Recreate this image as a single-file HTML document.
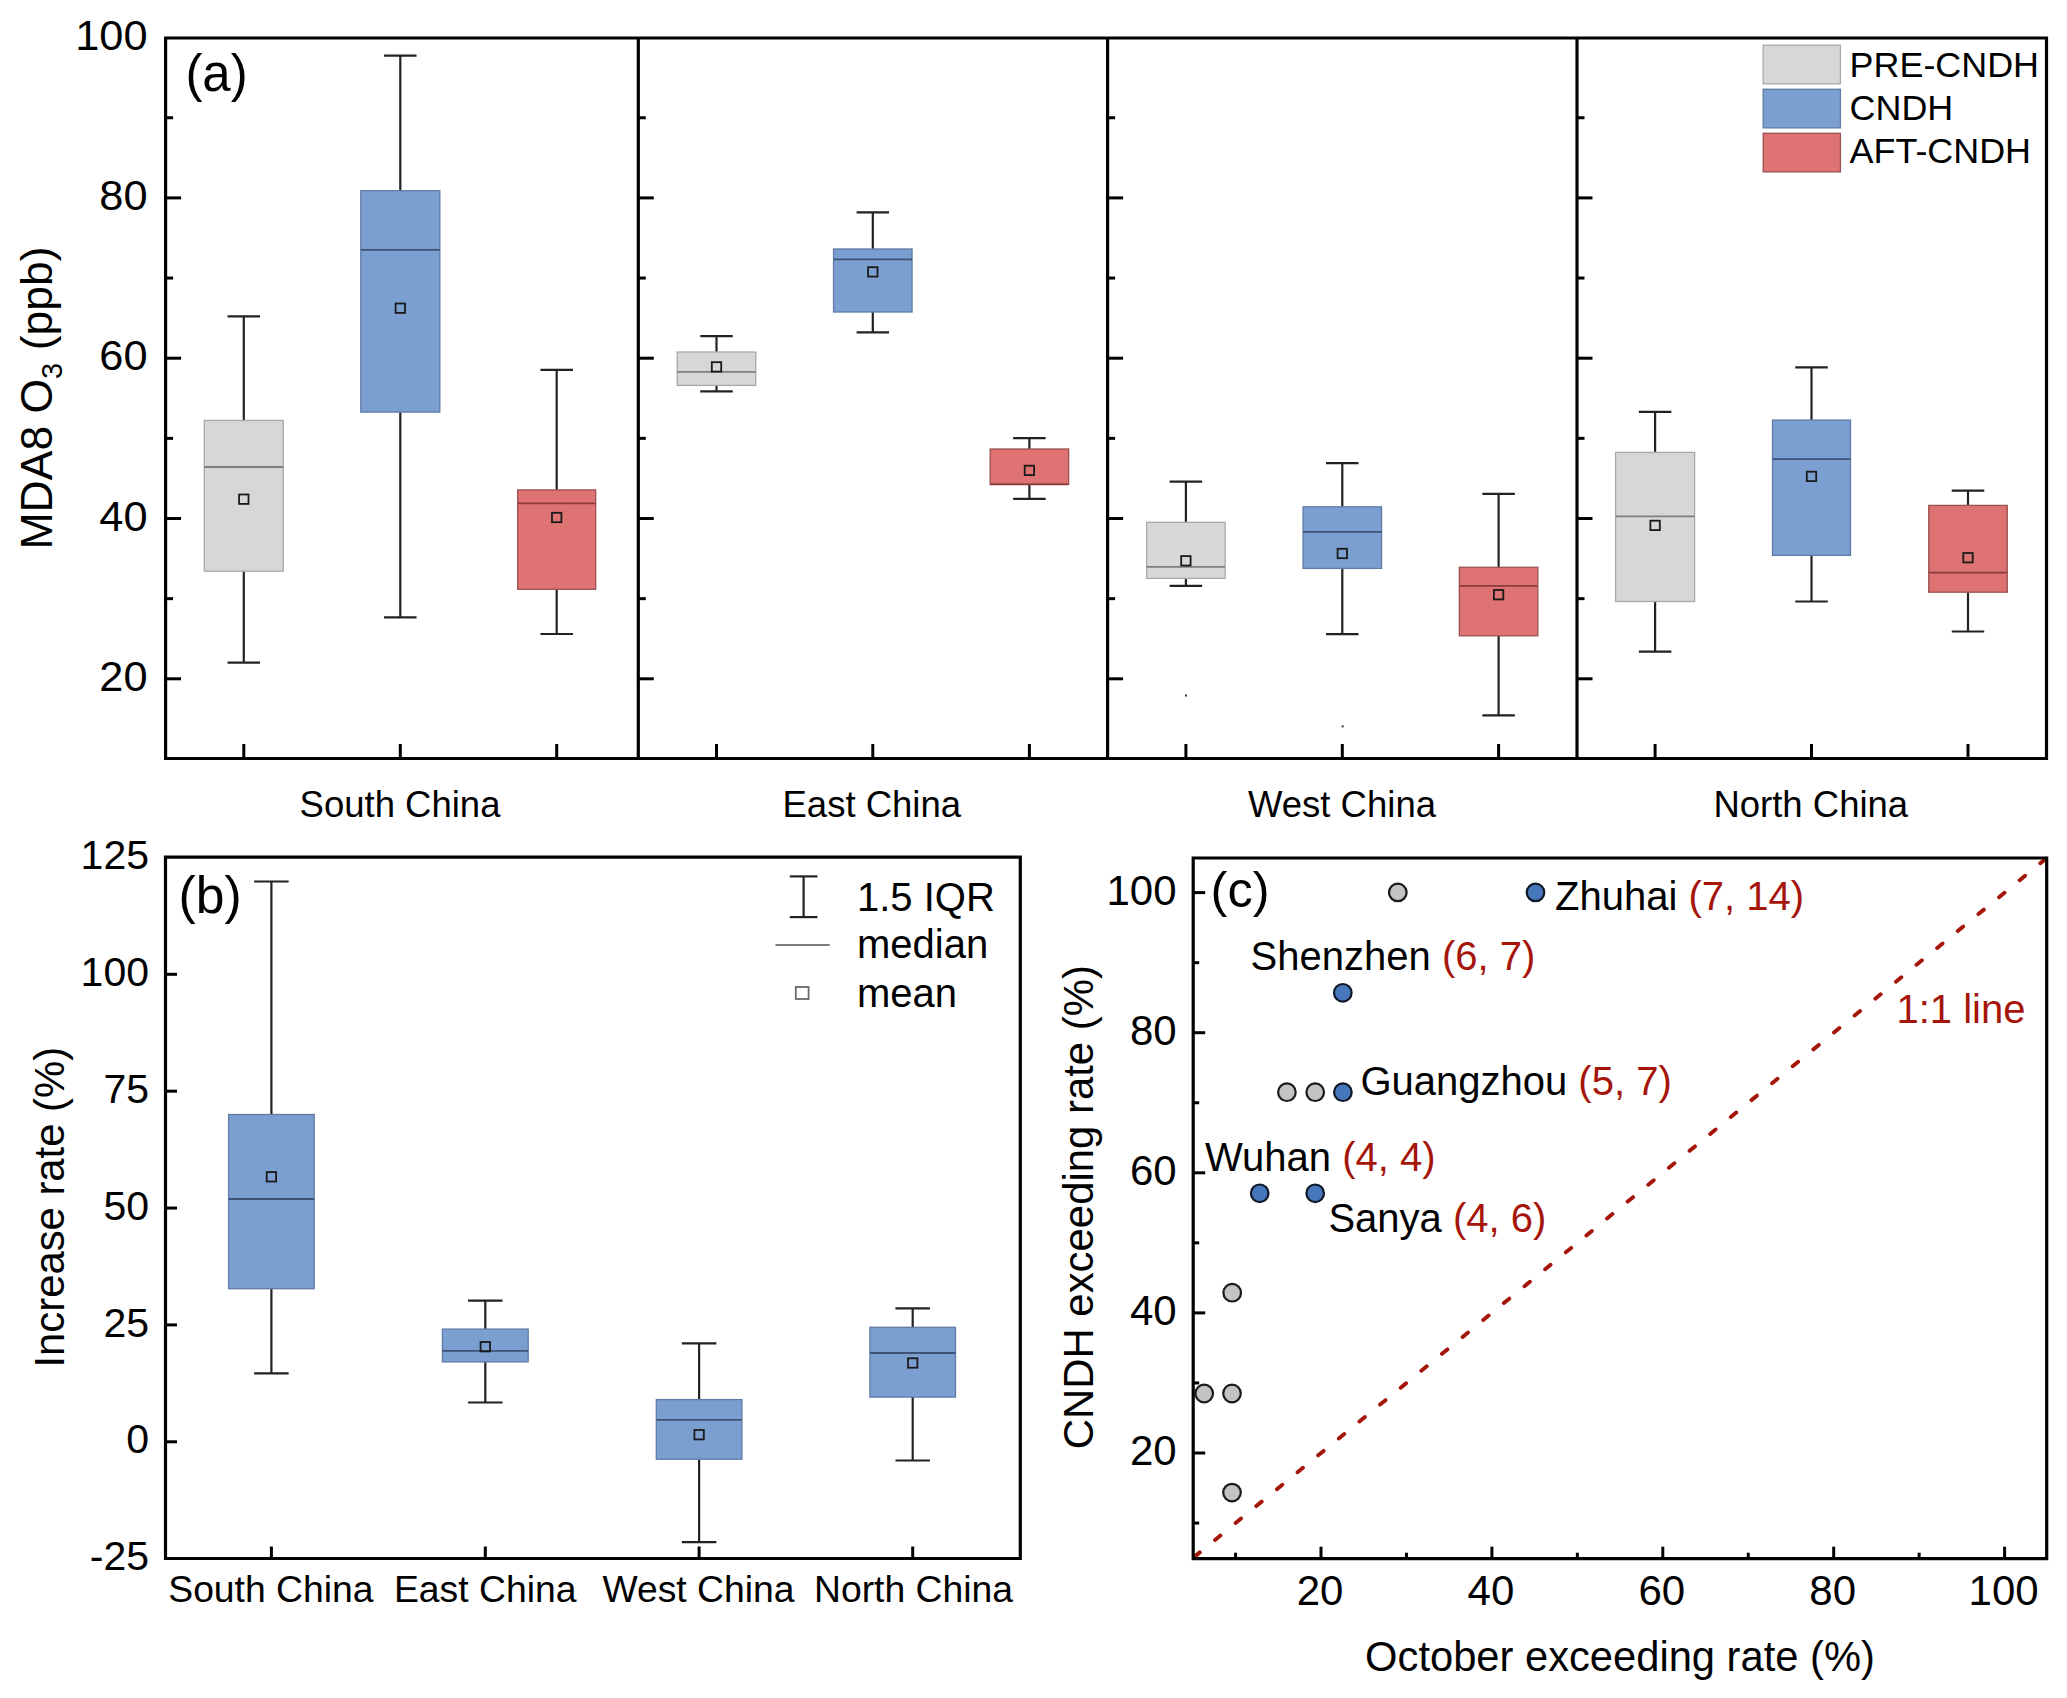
<!DOCTYPE html>
<html><head><meta charset="utf-8"><title>MDA8 O3 figure</title>
<style>html,body{margin:0;padding:0;background:#fff;}svg{display:block;}</style></head>
<body><svg width="2067" height="1698" viewBox="0 0 2067 1698" font-family="'Liberation Sans', Arial, sans-serif" fill="#000">
<rect width="2067" height="1698" fill="#fff"/>
<g id="pa">
<line x1="243.8" y1="316.4" x2="243.8" y2="420.4" stroke="#222" stroke-width="2.2"/>
<line x1="243.8" y1="571.2" x2="243.8" y2="662.7" stroke="#222" stroke-width="2.2"/>
<line x1="227.55" y1="316.4" x2="260.05" y2="316.4" stroke="#222" stroke-width="2.2"/>
<line x1="227.55" y1="662.7" x2="260.05" y2="662.7" stroke="#222" stroke-width="2.2"/>
<rect x="204.3" y="420.4" width="79" height="150.8" fill="#d7d7d7" stroke="#a8a8a8" stroke-width="1.3"/>
<line x1="204.3" y1="467" x2="283.3" y2="467" stroke="#7f7f7f" stroke-width="1.8"/>
<rect x="239.1" y="494.5" width="9.4" height="9.4" fill="none" stroke="#1a1a1a" stroke-width="1.8"/>
<line x1="400.3" y1="55.6" x2="400.3" y2="190.7" stroke="#222" stroke-width="2.2"/>
<line x1="400.3" y1="412.1" x2="400.3" y2="617.4" stroke="#222" stroke-width="2.2"/>
<line x1="384.05" y1="55.6" x2="416.55" y2="55.6" stroke="#222" stroke-width="2.2"/>
<line x1="384.05" y1="617.4" x2="416.55" y2="617.4" stroke="#222" stroke-width="2.2"/>
<rect x="360.8" y="190.7" width="79" height="221.4" fill="#7c9fd1" stroke="#5f7ba6" stroke-width="1.3"/>
<line x1="360.8" y1="249.9" x2="439.8" y2="249.9" stroke="#3e5275" stroke-width="1.8"/>
<rect x="395.6" y="303.5" width="9.4" height="9.4" fill="none" stroke="#1a1a1a" stroke-width="1.8"/>
<line x1="556.7" y1="369.8" x2="556.7" y2="489.9" stroke="#222" stroke-width="2.2"/>
<line x1="556.7" y1="589.3" x2="556.7" y2="634" stroke="#222" stroke-width="2.2"/>
<line x1="540.45" y1="369.8" x2="572.95" y2="369.8" stroke="#222" stroke-width="2.2"/>
<line x1="540.45" y1="634" x2="572.95" y2="634" stroke="#222" stroke-width="2.2"/>
<rect x="517.7" y="489.9" width="78" height="99.4" fill="#df7272" stroke="#9a5252" stroke-width="1.3"/>
<line x1="517.7" y1="503.4" x2="595.7" y2="503.4" stroke="#8b3c3c" stroke-width="1.8"/>
<rect x="552" y="512.8" width="9.4" height="9.4" fill="none" stroke="#1a1a1a" stroke-width="1.8"/>
<line x1="716.5" y1="336.2" x2="716.5" y2="352" stroke="#222" stroke-width="2.2"/>
<line x1="716.5" y1="385.4" x2="716.5" y2="391.4" stroke="#222" stroke-width="2.2"/>
<line x1="700.25" y1="336.2" x2="732.75" y2="336.2" stroke="#222" stroke-width="2.2"/>
<line x1="700.25" y1="391.4" x2="732.75" y2="391.4" stroke="#222" stroke-width="2.2"/>
<rect x="677.25" y="352" width="78.5" height="33.4" fill="#d7d7d7" stroke="#a8a8a8" stroke-width="1.3"/>
<line x1="677.25" y1="371.8" x2="755.75" y2="371.8" stroke="#7f7f7f" stroke-width="1.8"/>
<rect x="711.8" y="362.2" width="9.4" height="9.4" fill="none" stroke="#1a1a1a" stroke-width="1.8"/>
<line x1="872.8" y1="212.3" x2="872.8" y2="249" stroke="#222" stroke-width="2.2"/>
<line x1="872.8" y1="312" x2="872.8" y2="332.4" stroke="#222" stroke-width="2.2"/>
<line x1="856.55" y1="212.3" x2="889.05" y2="212.3" stroke="#222" stroke-width="2.2"/>
<line x1="856.55" y1="332.4" x2="889.05" y2="332.4" stroke="#222" stroke-width="2.2"/>
<rect x="833.55" y="249" width="78.5" height="63" fill="#7c9fd1" stroke="#5f7ba6" stroke-width="1.3"/>
<line x1="833.55" y1="259.4" x2="912.05" y2="259.4" stroke="#3e5275" stroke-width="1.8"/>
<rect x="868.1" y="267.2" width="9.4" height="9.4" fill="none" stroke="#1a1a1a" stroke-width="1.8"/>
<line x1="1029.4" y1="438.2" x2="1029.4" y2="449" stroke="#222" stroke-width="2.2"/>
<line x1="1029.4" y1="484.3" x2="1029.4" y2="498.9" stroke="#222" stroke-width="2.2"/>
<line x1="1013.15" y1="438.2" x2="1045.65" y2="438.2" stroke="#222" stroke-width="2.2"/>
<line x1="1013.15" y1="498.9" x2="1045.65" y2="498.9" stroke="#222" stroke-width="2.2"/>
<rect x="990.15" y="449" width="78.5" height="35.3" fill="#df7272" stroke="#9a5252" stroke-width="1.3"/>
<line x1="990.15" y1="484.3" x2="1068.65" y2="484.3" stroke="#8b3c3c" stroke-width="1.8"/>
<rect x="1024.7" y="465.7" width="9.4" height="9.4" fill="none" stroke="#1a1a1a" stroke-width="1.8"/>
<line x1="1185.9" y1="481.6" x2="1185.9" y2="522.3" stroke="#222" stroke-width="2.2"/>
<line x1="1185.9" y1="578.4" x2="1185.9" y2="585.8" stroke="#222" stroke-width="2.2"/>
<line x1="1169.65" y1="481.6" x2="1202.15" y2="481.6" stroke="#222" stroke-width="2.2"/>
<line x1="1169.65" y1="585.8" x2="1202.15" y2="585.8" stroke="#222" stroke-width="2.2"/>
<rect x="1146.65" y="522.3" width="78.5" height="56.1" fill="#d7d7d7" stroke="#a8a8a8" stroke-width="1.3"/>
<line x1="1146.65" y1="566.9" x2="1225.15" y2="566.9" stroke="#7f7f7f" stroke-width="1.8"/>
<rect x="1181.2" y="556.1" width="9.4" height="9.4" fill="none" stroke="#1a1a1a" stroke-width="1.8"/>
<line x1="1342.3" y1="463.1" x2="1342.3" y2="506.8" stroke="#222" stroke-width="2.2"/>
<line x1="1342.3" y1="568.4" x2="1342.3" y2="634.1" stroke="#222" stroke-width="2.2"/>
<line x1="1326.05" y1="463.1" x2="1358.55" y2="463.1" stroke="#222" stroke-width="2.2"/>
<line x1="1326.05" y1="634.1" x2="1358.55" y2="634.1" stroke="#222" stroke-width="2.2"/>
<rect x="1303.05" y="506.8" width="78.5" height="61.6" fill="#7c9fd1" stroke="#5f7ba6" stroke-width="1.3"/>
<line x1="1303.05" y1="531.9" x2="1381.55" y2="531.9" stroke="#3e5275" stroke-width="1.8"/>
<rect x="1337.6" y="548.8" width="9.4" height="9.4" fill="none" stroke="#1a1a1a" stroke-width="1.8"/>
<line x1="1498.6" y1="493.9" x2="1498.6" y2="567.3" stroke="#222" stroke-width="2.2"/>
<line x1="1498.6" y1="635.8" x2="1498.6" y2="715.3" stroke="#222" stroke-width="2.2"/>
<line x1="1482.35" y1="493.9" x2="1514.85" y2="493.9" stroke="#222" stroke-width="2.2"/>
<line x1="1482.35" y1="715.3" x2="1514.85" y2="715.3" stroke="#222" stroke-width="2.2"/>
<rect x="1459.35" y="567.3" width="78.5" height="68.5" fill="#df7272" stroke="#9a5252" stroke-width="1.3"/>
<line x1="1459.35" y1="585.8" x2="1537.85" y2="585.8" stroke="#8b3c3c" stroke-width="1.8"/>
<rect x="1493.9" y="590" width="9.4" height="9.4" fill="none" stroke="#1a1a1a" stroke-width="1.8"/>
<line x1="1655.1" y1="411.9" x2="1655.1" y2="452.4" stroke="#222" stroke-width="2.2"/>
<line x1="1655.1" y1="601.5" x2="1655.1" y2="651.6" stroke="#222" stroke-width="2.2"/>
<line x1="1638.85" y1="411.9" x2="1671.35" y2="411.9" stroke="#222" stroke-width="2.2"/>
<line x1="1638.85" y1="651.6" x2="1671.35" y2="651.6" stroke="#222" stroke-width="2.2"/>
<rect x="1615.6" y="452.4" width="79" height="149.1" fill="#d7d7d7" stroke="#a8a8a8" stroke-width="1.3"/>
<line x1="1615.6" y1="516.3" x2="1694.6" y2="516.3" stroke="#7f7f7f" stroke-width="1.8"/>
<rect x="1650.4" y="520.7" width="9.4" height="9.4" fill="none" stroke="#1a1a1a" stroke-width="1.8"/>
<line x1="1811.5" y1="367.4" x2="1811.5" y2="420.1" stroke="#222" stroke-width="2.2"/>
<line x1="1811.5" y1="555.4" x2="1811.5" y2="601.5" stroke="#222" stroke-width="2.2"/>
<line x1="1795.25" y1="367.4" x2="1827.75" y2="367.4" stroke="#222" stroke-width="2.2"/>
<line x1="1795.25" y1="601.5" x2="1827.75" y2="601.5" stroke="#222" stroke-width="2.2"/>
<rect x="1772.5" y="420.1" width="78" height="135.3" fill="#7c9fd1" stroke="#5f7ba6" stroke-width="1.3"/>
<line x1="1772.5" y1="459.1" x2="1850.5" y2="459.1" stroke="#3e5275" stroke-width="1.8"/>
<rect x="1806.8" y="471.7" width="9.4" height="9.4" fill="none" stroke="#1a1a1a" stroke-width="1.8"/>
<line x1="1968" y1="490.7" x2="1968" y2="505.4" stroke="#222" stroke-width="2.2"/>
<line x1="1968" y1="592.2" x2="1968" y2="631.5" stroke="#222" stroke-width="2.2"/>
<line x1="1951.75" y1="490.7" x2="1984.25" y2="490.7" stroke="#222" stroke-width="2.2"/>
<line x1="1951.75" y1="631.5" x2="1984.25" y2="631.5" stroke="#222" stroke-width="2.2"/>
<rect x="1928.75" y="505.4" width="78.5" height="86.8" fill="#df7272" stroke="#9a5252" stroke-width="1.3"/>
<line x1="1928.75" y1="572.6" x2="2007.25" y2="572.6" stroke="#8b3c3c" stroke-width="1.8"/>
<rect x="1963.3" y="553" width="9.4" height="9.4" fill="none" stroke="#1a1a1a" stroke-width="1.8"/>
<rect x="1185" y="694.5" width="2" height="2" fill="#333"/>
<rect x="1341.6" y="725.4" width="2" height="2" fill="#333"/>
<line x1="165.6" y1="678.8" x2="181.1" y2="678.8" stroke="#000" stroke-width="3"/>
<line x1="165.6" y1="518.5" x2="181.1" y2="518.5" stroke="#000" stroke-width="3"/>
<line x1="165.6" y1="358.2" x2="181.1" y2="358.2" stroke="#000" stroke-width="3"/>
<line x1="165.6" y1="197.9" x2="181.1" y2="197.9" stroke="#000" stroke-width="3"/>
<line x1="165.6" y1="598.65" x2="173.1" y2="598.65" stroke="#000" stroke-width="3"/>
<line x1="165.6" y1="438.35" x2="173.1" y2="438.35" stroke="#000" stroke-width="3"/>
<line x1="165.6" y1="278.05" x2="173.1" y2="278.05" stroke="#000" stroke-width="3"/>
<line x1="165.6" y1="117.75" x2="173.1" y2="117.75" stroke="#000" stroke-width="3"/>
<line x1="638.3" y1="678.8" x2="653.8" y2="678.8" stroke="#000" stroke-width="3"/>
<line x1="638.3" y1="518.5" x2="653.8" y2="518.5" stroke="#000" stroke-width="3"/>
<line x1="638.3" y1="358.2" x2="653.8" y2="358.2" stroke="#000" stroke-width="3"/>
<line x1="638.3" y1="197.9" x2="653.8" y2="197.9" stroke="#000" stroke-width="3"/>
<line x1="638.3" y1="598.65" x2="645.8" y2="598.65" stroke="#000" stroke-width="3"/>
<line x1="638.3" y1="438.35" x2="645.8" y2="438.35" stroke="#000" stroke-width="3"/>
<line x1="638.3" y1="278.05" x2="645.8" y2="278.05" stroke="#000" stroke-width="3"/>
<line x1="638.3" y1="117.75" x2="645.8" y2="117.75" stroke="#000" stroke-width="3"/>
<line x1="1107.6" y1="678.8" x2="1123.1" y2="678.8" stroke="#000" stroke-width="3"/>
<line x1="1107.6" y1="518.5" x2="1123.1" y2="518.5" stroke="#000" stroke-width="3"/>
<line x1="1107.6" y1="358.2" x2="1123.1" y2="358.2" stroke="#000" stroke-width="3"/>
<line x1="1107.6" y1="197.9" x2="1123.1" y2="197.9" stroke="#000" stroke-width="3"/>
<line x1="1107.6" y1="598.65" x2="1115.1" y2="598.65" stroke="#000" stroke-width="3"/>
<line x1="1107.6" y1="438.35" x2="1115.1" y2="438.35" stroke="#000" stroke-width="3"/>
<line x1="1107.6" y1="278.05" x2="1115.1" y2="278.05" stroke="#000" stroke-width="3"/>
<line x1="1107.6" y1="117.75" x2="1115.1" y2="117.75" stroke="#000" stroke-width="3"/>
<line x1="1577" y1="678.8" x2="1592.5" y2="678.8" stroke="#000" stroke-width="3"/>
<line x1="1577" y1="518.5" x2="1592.5" y2="518.5" stroke="#000" stroke-width="3"/>
<line x1="1577" y1="358.2" x2="1592.5" y2="358.2" stroke="#000" stroke-width="3"/>
<line x1="1577" y1="197.9" x2="1592.5" y2="197.9" stroke="#000" stroke-width="3"/>
<line x1="1577" y1="598.65" x2="1584.5" y2="598.65" stroke="#000" stroke-width="3"/>
<line x1="1577" y1="438.35" x2="1584.5" y2="438.35" stroke="#000" stroke-width="3"/>
<line x1="1577" y1="278.05" x2="1584.5" y2="278.05" stroke="#000" stroke-width="3"/>
<line x1="1577" y1="117.75" x2="1584.5" y2="117.75" stroke="#000" stroke-width="3"/>
<line x1="243.8" y1="758.5" x2="243.8" y2="744" stroke="#000" stroke-width="3"/>
<line x1="400.3" y1="758.5" x2="400.3" y2="744" stroke="#000" stroke-width="3"/>
<line x1="556.7" y1="758.5" x2="556.7" y2="744" stroke="#000" stroke-width="3"/>
<line x1="716.5" y1="758.5" x2="716.5" y2="744" stroke="#000" stroke-width="3"/>
<line x1="872.8" y1="758.5" x2="872.8" y2="744" stroke="#000" stroke-width="3"/>
<line x1="1029.4" y1="758.5" x2="1029.4" y2="744" stroke="#000" stroke-width="3"/>
<line x1="1185.9" y1="758.5" x2="1185.9" y2="744" stroke="#000" stroke-width="3"/>
<line x1="1342.3" y1="758.5" x2="1342.3" y2="744" stroke="#000" stroke-width="3"/>
<line x1="1498.6" y1="758.5" x2="1498.6" y2="744" stroke="#000" stroke-width="3"/>
<line x1="1655.1" y1="758.5" x2="1655.1" y2="744" stroke="#000" stroke-width="3"/>
<line x1="1811.5" y1="758.5" x2="1811.5" y2="744" stroke="#000" stroke-width="3"/>
<line x1="1968" y1="758.5" x2="1968" y2="744" stroke="#000" stroke-width="3"/>
<path d="M165.6 38H2046.5V758.5H165.6Z" fill="none" stroke="#000" stroke-width="3.2"/>
<line x1="638.3" y1="38" x2="638.3" y2="758.5" stroke="#000" stroke-width="3.2"/>
<line x1="1107.6" y1="38" x2="1107.6" y2="758.5" stroke="#000" stroke-width="3.2"/>
<line x1="1577" y1="38" x2="1577" y2="758.5" stroke="#000" stroke-width="3.2"/>
<text x="147.5" y="690.9" font-size="43.3" text-anchor="end">20</text>
<text x="147.5" y="530.6" font-size="43.3" text-anchor="end">40</text>
<text x="147.5" y="370.3" font-size="43.3" text-anchor="end">60</text>
<text x="147.5" y="210" font-size="43.3" text-anchor="end">80</text>
<text x="147.5" y="49.7" font-size="43.3" text-anchor="end">100</text>
<text x="400" y="816.5" font-size="36.5" text-anchor="middle">South China</text>
<text x="871.8" y="816.5" font-size="36.5" text-anchor="middle">East China</text>
<text x="1342" y="816.5" font-size="36.5" text-anchor="middle">West China</text>
<text x="1810.8" y="816.5" font-size="36.5" text-anchor="middle">North China</text>
<text x="185.4" y="91.2" font-size="51">(a)</text>
<text transform="translate(51.6,549.5) rotate(-90)" font-size="44.5">MDA8 O<tspan font-size="29" dy="10.5">3</tspan><tspan dy="-10.5"> (ppb)</tspan></text>
<rect x="1763.2" y="45.2" width="77.2" height="38.6" fill="#d7d7d7" stroke="#a8a8a8" stroke-width="1.3"/>
<text x="1849.6" y="76.6" font-size="35.9">PRE-CNDH</text>
<rect x="1763.2" y="89.25" width="77.2" height="38.6" fill="#7c9fd1" stroke="#5f7ba6" stroke-width="1.3"/>
<text x="1849.6" y="120" font-size="35.9">CNDH</text>
<rect x="1763.2" y="133.3" width="77.2" height="38.6" fill="#df7272" stroke="#9a5252" stroke-width="1.3"/>
<text x="1849.6" y="163.4" font-size="35.9">AFT-CNDH</text>
</g>
<g id="pb">
<line x1="271.4" y1="881.5" x2="271.4" y2="1114.5" stroke="#222" stroke-width="2.2"/>
<line x1="271.4" y1="1288.7" x2="271.4" y2="1373.3" stroke="#222" stroke-width="2.2"/>
<line x1="254.15" y1="881.5" x2="288.65" y2="881.5" stroke="#222" stroke-width="2.2"/>
<line x1="254.15" y1="1373.3" x2="288.65" y2="1373.3" stroke="#222" stroke-width="2.2"/>
<rect x="228.6" y="1114.5" width="85.6" height="174.2" fill="#7c9fd1" stroke="#5f7ba6" stroke-width="1.3"/>
<line x1="228.6" y1="1199" x2="314.2" y2="1199" stroke="#3e5275" stroke-width="1.8"/>
<rect x="266.7" y="1172.1" width="9.4" height="9.4" fill="none" stroke="#1a1a1a" stroke-width="1.8"/>
<line x1="485.3" y1="1300.7" x2="485.3" y2="1329.1" stroke="#222" stroke-width="2.2"/>
<line x1="485.3" y1="1361.9" x2="485.3" y2="1402.5" stroke="#222" stroke-width="2.2"/>
<line x1="468.05" y1="1300.7" x2="502.55" y2="1300.7" stroke="#222" stroke-width="2.2"/>
<line x1="468.05" y1="1402.5" x2="502.55" y2="1402.5" stroke="#222" stroke-width="2.2"/>
<rect x="442.4" y="1329.1" width="85.8" height="32.8" fill="#7c9fd1" stroke="#5f7ba6" stroke-width="1.3"/>
<line x1="442.4" y1="1350.8" x2="528.2" y2="1350.8" stroke="#3e5275" stroke-width="1.8"/>
<rect x="480.6" y="1342" width="9.4" height="9.4" fill="none" stroke="#1a1a1a" stroke-width="1.8"/>
<line x1="699.1" y1="1343.4" x2="699.1" y2="1399.6" stroke="#222" stroke-width="2.2"/>
<line x1="699.1" y1="1459.2" x2="699.1" y2="1542.2" stroke="#222" stroke-width="2.2"/>
<line x1="681.85" y1="1343.4" x2="716.35" y2="1343.4" stroke="#222" stroke-width="2.2"/>
<line x1="681.85" y1="1542.2" x2="716.35" y2="1542.2" stroke="#222" stroke-width="2.2"/>
<rect x="656.3" y="1399.6" width="85.6" height="59.6" fill="#7c9fd1" stroke="#5f7ba6" stroke-width="1.3"/>
<line x1="656.3" y1="1419.8" x2="741.9" y2="1419.8" stroke="#3e5275" stroke-width="1.8"/>
<rect x="694.4" y="1430" width="9.4" height="9.4" fill="none" stroke="#1a1a1a" stroke-width="1.8"/>
<line x1="912.7" y1="1308.3" x2="912.7" y2="1327.3" stroke="#222" stroke-width="2.2"/>
<line x1="912.7" y1="1397.1" x2="912.7" y2="1460.5" stroke="#222" stroke-width="2.2"/>
<line x1="895.45" y1="1308.3" x2="929.95" y2="1308.3" stroke="#222" stroke-width="2.2"/>
<line x1="895.45" y1="1460.5" x2="929.95" y2="1460.5" stroke="#222" stroke-width="2.2"/>
<rect x="869.9" y="1327.3" width="85.6" height="69.8" fill="#7c9fd1" stroke="#5f7ba6" stroke-width="1.3"/>
<line x1="869.9" y1="1353" x2="955.5" y2="1353" stroke="#3e5275" stroke-width="1.8"/>
<rect x="908" y="1358.3" width="9.4" height="9.4" fill="none" stroke="#1a1a1a" stroke-width="1.8"/>
<line x1="165.5" y1="974.3" x2="177" y2="974.3" stroke="#000" stroke-width="3"/>
<line x1="165.5" y1="1091.17" x2="177" y2="1091.17" stroke="#000" stroke-width="3"/>
<line x1="165.5" y1="1208.05" x2="177" y2="1208.05" stroke="#000" stroke-width="3"/>
<line x1="165.5" y1="1324.92" x2="177" y2="1324.92" stroke="#000" stroke-width="3"/>
<line x1="165.5" y1="1441.8" x2="177" y2="1441.8" stroke="#000" stroke-width="3"/>
<line x1="271.4" y1="1558.5" x2="271.4" y2="1546.5" stroke="#000" stroke-width="3"/>
<line x1="485.3" y1="1558.5" x2="485.3" y2="1546.5" stroke="#000" stroke-width="3"/>
<line x1="699.1" y1="1558.5" x2="699.1" y2="1546.5" stroke="#000" stroke-width="3"/>
<line x1="912.7" y1="1558.5" x2="912.7" y2="1546.5" stroke="#000" stroke-width="3"/>
<path d="M165.5 857.2H1020.3V1558.5H165.5Z" fill="none" stroke="#000" stroke-width="3.2"/>
<text x="149" y="869.02" font-size="41" text-anchor="end">125</text>
<text x="149" y="985.9" font-size="41" text-anchor="end">100</text>
<text x="149" y="1102.77" font-size="41" text-anchor="end">75</text>
<text x="149" y="1219.65" font-size="41" text-anchor="end">50</text>
<text x="149" y="1336.52" font-size="41" text-anchor="end">25</text>
<text x="149" y="1453.4" font-size="41" text-anchor="end">0</text>
<text x="149" y="1570.27" font-size="41" text-anchor="end">-25</text>
<text x="270.9" y="1602.3" font-size="37.3" text-anchor="middle">South China</text>
<text x="485.2" y="1602.3" font-size="37.3" text-anchor="middle">East China</text>
<text x="698.5" y="1602.3" font-size="37.3" text-anchor="middle">West China</text>
<text x="913.5" y="1602.3" font-size="37.3" text-anchor="middle">North China</text>
<text x="178.6" y="912.6" font-size="51.6">(b)</text>
<text transform="translate(64.3,1367.5) rotate(-90)" font-size="41.8">Increase rate (%)</text>
<line x1="803.6" y1="876.4" x2="803.6" y2="917.1" stroke="#222" stroke-width="2.2"/>
<line x1="789.8" y1="876.4" x2="817.4" y2="876.4" stroke="#222" stroke-width="2.2"/>
<line x1="789.8" y1="917.1" x2="817.4" y2="917.1" stroke="#222" stroke-width="2.2"/>
<line x1="775.5" y1="945.1" x2="829.7" y2="945.1" stroke="#7a7a7a" stroke-width="2"/>
<rect x="795.8" y="987" width="12.8" height="12" fill="none" stroke="#6a6a6a" stroke-width="1.8"/>
<text x="857" y="910.8" font-size="40">1.5 IQR</text>
<text x="857" y="958.3" font-size="40">median</text>
<text x="857" y="1006.6" font-size="40">mean</text>
</g>
<g id="pc">
<line x1="1192.83" y1="1558.08" x2="2047.33" y2="857.58" stroke="#a5150a" stroke-width="3.9" stroke-linecap="round" stroke-dasharray="7 19.68" stroke-dashoffset="-2"/>
<circle cx="1397.8" cy="892.4" r="8.8" fill="#c3c3c3" stroke="#1a1a1a" stroke-width="2.2"/>
<circle cx="1286.9" cy="1092.2" r="8.8" fill="#c3c3c3" stroke="#1a1a1a" stroke-width="2.2"/>
<circle cx="1315.2" cy="1092.2" r="8.8" fill="#c3c3c3" stroke="#1a1a1a" stroke-width="2.2"/>
<circle cx="1232.2" cy="1292.7" r="8.8" fill="#c3c3c3" stroke="#1a1a1a" stroke-width="2.2"/>
<circle cx="1204.2" cy="1393.5" r="8.8" fill="#c3c3c3" stroke="#1a1a1a" stroke-width="2.2"/>
<circle cx="1232" cy="1393.5" r="8.8" fill="#c3c3c3" stroke="#1a1a1a" stroke-width="2.2"/>
<circle cx="1232" cy="1492.6" r="8.8" fill="#c3c3c3" stroke="#1a1a1a" stroke-width="2.2"/>
<circle cx="1535.5" cy="892.4" r="8.8" fill="#4677bb" stroke="#101828" stroke-width="2.2"/>
<circle cx="1342.8" cy="992.8" r="8.8" fill="#4677bb" stroke="#101828" stroke-width="2.2"/>
<circle cx="1342.9" cy="1092.2" r="8.8" fill="#4677bb" stroke="#101828" stroke-width="2.2"/>
<circle cx="1259.7" cy="1193.3" r="8.8" fill="#4677bb" stroke="#101828" stroke-width="2.2"/>
<circle cx="1315.2" cy="1193.3" r="8.8" fill="#4677bb" stroke="#101828" stroke-width="2.2"/>
<line x1="1193.2" y1="1453" x2="1205.2" y2="1453" stroke="#000" stroke-width="3"/>
<line x1="1321" y1="1558.7" x2="1321" y2="1546.7" stroke="#000" stroke-width="3"/>
<line x1="1193.2" y1="1312.9" x2="1205.2" y2="1312.9" stroke="#000" stroke-width="3"/>
<line x1="1491.9" y1="1558.7" x2="1491.9" y2="1546.7" stroke="#000" stroke-width="3"/>
<line x1="1193.2" y1="1172.8" x2="1205.2" y2="1172.8" stroke="#000" stroke-width="3"/>
<line x1="1662.8" y1="1558.7" x2="1662.8" y2="1546.7" stroke="#000" stroke-width="3"/>
<line x1="1193.2" y1="1032.7" x2="1205.2" y2="1032.7" stroke="#000" stroke-width="3"/>
<line x1="1833.7" y1="1558.7" x2="1833.7" y2="1546.7" stroke="#000" stroke-width="3"/>
<line x1="1193.2" y1="892.6" x2="1205.2" y2="892.6" stroke="#000" stroke-width="3"/>
<line x1="2004.6" y1="1558.7" x2="2004.6" y2="1546.7" stroke="#000" stroke-width="3"/>
<line x1="1193.2" y1="1523.05" x2="1199.2" y2="1523.05" stroke="#000" stroke-width="3"/>
<line x1="1235.55" y1="1558.7" x2="1235.55" y2="1552.7" stroke="#000" stroke-width="3"/>
<line x1="1193.2" y1="1382.95" x2="1199.2" y2="1382.95" stroke="#000" stroke-width="3"/>
<line x1="1406.45" y1="1558.7" x2="1406.45" y2="1552.7" stroke="#000" stroke-width="3"/>
<line x1="1193.2" y1="1242.85" x2="1199.2" y2="1242.85" stroke="#000" stroke-width="3"/>
<line x1="1577.35" y1="1558.7" x2="1577.35" y2="1552.7" stroke="#000" stroke-width="3"/>
<line x1="1193.2" y1="1102.75" x2="1199.2" y2="1102.75" stroke="#000" stroke-width="3"/>
<line x1="1748.25" y1="1558.7" x2="1748.25" y2="1552.7" stroke="#000" stroke-width="3"/>
<line x1="1193.2" y1="962.65" x2="1199.2" y2="962.65" stroke="#000" stroke-width="3"/>
<line x1="1919.15" y1="1558.7" x2="1919.15" y2="1552.7" stroke="#000" stroke-width="3"/>
<path d="M1193.2 858H2046.7V1558.7H1193.2Z" fill="none" stroke="#000" stroke-width="3.2"/>
<text x="1176.6" y="1465.2" font-size="42" text-anchor="end">20</text>
<text x="1320" y="1604.5" font-size="42" text-anchor="middle">20</text>
<text x="1176.6" y="1325.1" font-size="42" text-anchor="end">40</text>
<text x="1490.9" y="1604.5" font-size="42" text-anchor="middle">40</text>
<text x="1176.6" y="1185" font-size="42" text-anchor="end">60</text>
<text x="1661.8" y="1604.5" font-size="42" text-anchor="middle">60</text>
<text x="1176.6" y="1044.9" font-size="42" text-anchor="end">80</text>
<text x="1832.7" y="1604.5" font-size="42" text-anchor="middle">80</text>
<text x="1176.6" y="904.8" font-size="42" text-anchor="end">100</text>
<text x="2003.6" y="1604.5" font-size="42" text-anchor="middle">100</text>
<text x="1210.6" y="906.6" font-size="50.6">(c)</text>
<text x="1555" y="910" font-size="40">Zhuhai <tspan fill="#a5150a">(7, 14)</tspan></text>
<text x="1250.6" y="969.5" font-size="40">Shenzhen <tspan fill="#a5150a">(6, 7)</tspan></text>
<text x="1360.4" y="1094.5" font-size="40">Guangzhou <tspan fill="#a5150a">(5, 7)</tspan></text>
<text x="1205" y="1170.6" font-size="40">Wuhan <tspan fill="#a5150a">(4, 4)</tspan></text>
<text x="1328.4" y="1232.4" font-size="40">Sanya <tspan fill="#a5150a">(4, 6)</tspan></text>
<text x="1896.5" y="1023" font-size="40" fill="#a5150a">1:1 line</text>
<text x="1620" y="1671.2" font-size="41.7" text-anchor="middle">October exceeding rate (%)</text>
<text transform="translate(1093.4,1449.3) rotate(-90)" font-size="41.9">CNDH exceeding rate (%)</text>
</g>
</svg></body></html>
